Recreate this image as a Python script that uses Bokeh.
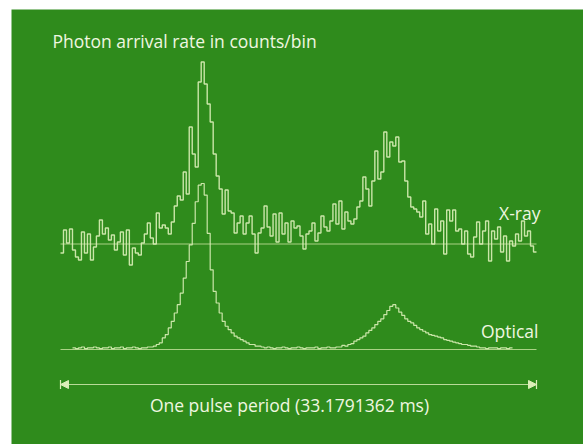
import numpy as np
from bokeh.plotting import figure
from bokeh.models import Range1d, Label, Arrow, NormalHead, TeeHead
from bokeh.embed import file_html
from bokeh.resources import INLINE

# ---------------- data ----------------
# X-ray light curve: counts per phase bin, relative to the mean (off-pulse) level
xray_counts = (
    [-9, 14, 1, 15, -6, -13, -16, 12, -9, 10, -16, -3, 8, 24, 10, 16, 4, 9, -6, 2,
     12, -11, 14, -21, -4, -9, -11, 1, 10, 21]
    + [6, 0, 31, 16, 19, 16, 10, 22, 38, 48, 44, 72, 50, 117, 90, 77, 162, 182, 160, 140,
       122, 90, 68, 55, 30, 54]
    + [33, 31, 11, 21, 28, 10, 21, 28, 10, -9, 11, 16, 38, 17, 8, 30, 2, 31, 10, 21,
       2, 23, 16, 18, 8, -5, 10, 13, 21, 3, 11, 28]
    + [17, 13, 23, 40, 20, 43, 15, 32, 23, 20, 25, 37, 43, 67, 55, 38, 63, 93, 65, 72,
       112, 87, 102, 98, 107, 82, 83, 63, 47, 37, 35]
    + [32, 27, 43, 10, 20, 0, 35, 13, 23, -10, 34, 23, 34, 13, 15, 0, 13, -10, -13, 7,
       22, 0, 13, 23, -17, 13, 5, 17, -8, 8, -17, 3, -2, 10, 3, 23, 8, 13, -2, -8]
)

# Optical light curve: % of main-peak intensity, same phase bins, starting at bin 4
optical_first_bin = 4
optical_pct = (
    [1, 0.5, 1, 1.5, 0.5, 1, 1, 1.5, 1, 0.5, 1, 1, 1.5, 0.5, 1, 1, 1.5, 0.5, 1, 1,
     1.5, 1, 0.5, 1, 1, 1.5, 1.5]
    + [2, 3, 4, 7, 9, 13, 17, 22, 27, 34, 43, 53, 63, 76, 89, 99, 100, 93, 70, 48,
       35, 28, 22, 17, 14, 12, 10, 8, 7, 6, 5, 4, 3, 3, 2, 2, 1.5]
    + [1, 1.5, 1, 0.5, 1, 1, 1.5, 1, 0.5, 1, 1, 1.5, 1, 0.5, 1, 1, 1, 1.5, 0.5, 1,
       1, 1.5, 1, 1, 1.5]
    + [1.5, 2.5, 2, 3, 3.5, 5, 6, 7, 8, 10, 11.5, 13, 15, 17, 18.5, 21, 23.5, 26, 27, 25,
       22.5, 20.5, 18.5, 17, 16, 14.5, 13, 12, 11, 10, 9, 8.5, 8, 7.5, 7, 6, 5.5, 5, 4.5, 4,
       3.5, 3, 3, 2.5, 2, 2, 1.5, 1]
    + [1, 0.5, 1, 1, 1, 0.5, 1, 1, 0.5, 1]
)

period_ms = "33.1791362"
title_text = "Photon arrival rate in counts/bin"
xray_label = "X-ray"
optical_label = "Optical"
period_label = f"One pulse period ({period_ms} ms)"

# ---------------- style ----------------
GREEN = "#2f8b1c"
TRACE = "#dcefb8"
BASE = "#c9e3a0"
TEXT = "#f0f7e0"
FONT = "Open Sans"
FSIZE = "17.5px"

W, H = 583, 444
left_pad, top_pad = 11, 9
frame_w, frame_h = W - left_pad, H - top_pad

# phase 0..1 spans 476 px, starting 49 px into the frame
px_per_phase = 476.0
x0 = -49.0 / px_per_phase
x1 = x0 + frame_w / px_per_phase
# X-ray: 1 count = 1 px, mean level 234.5 px below frame top
y_top = 234.5
y0, y1 = y_top - frame_h, y_top
# Optical: 100% = 166 px, zero level 340 px below frame top
opt_px = 1.66
oy_top = 340.0 / opt_px
oy0, oy1 = oy_top - frame_h / opt_px, oy_top

p = figure(width=W, height=H, output_backend="svg", toolbar_location=None,
           x_range=Range1d(x0, x1), y_range=Range1d(y0, y1),
           x_axis_location=None, y_axis_location=None,
           min_border_left=left_pad, min_border_top=top_pad,
           min_border_right=0, min_border_bottom=0,
           background_fill_color=GREEN, border_fill_color="white",
           outline_line_color=None)
p.grid.visible = False
p.extra_y_ranges = {"opt": Range1d(oy0, oy1)}

N = len(xray_counts)
edges = np.arange(N + 1) / N

# baselines (mean levels)
p.line([0, 1], [0, 0], line_color=BASE, line_width=1, line_alpha=0.8)
p.line([0, 1], [0, 0], y_range_name="opt", line_color=BASE, line_width=1, line_alpha=0.8)

# X-ray histogram
p.step(edges, list(xray_counts) + [xray_counts[-1]], mode="after",
       line_color=TRACE, line_width=1.4, line_alpha=0.9)

# Optical histogram
M = len(optical_pct)
oedges = np.arange(optical_first_bin, optical_first_bin + M + 1) / N
p.step(oedges, list(optical_pct) + [optical_pct[-1]], mode="after", y_range_name="opt",
       line_color=TRACE, line_width=1.2, line_alpha=0.9)

# period arrow
arrow_y = -140.5
p.add_layout(Arrow(start=NormalHead(size=8, fill_color=TRACE, line_color=TRACE, line_width=1),
                   end=NormalHead(size=8, fill_color=TRACE, line_color=TRACE, line_width=1),
                   x_start=0, y_start=arrow_y, x_end=1, y_end=arrow_y,
                   line_color=TRACE, line_width=1, line_alpha=0.8))
p.add_layout(Arrow(start=TeeHead(size=9, line_color=TRACE, line_width=1.2),
                   end=TeeHead(size=9, line_color=TRACE, line_width=1.2),
                   x_start=0, y_start=arrow_y, x_end=1, y_end=arrow_y,
                   line_alpha=0))

def label(x, y, text, align):
    p.add_layout(Label(x=x, y=y, text=text, text_align=align, text_baseline="alphabetic",
                       text_font=FONT, text_font_size=FSIZE, text_color=TEXT))

label((52 - 60) / px_per_phase, 243.5 - 40, title_text, "left")
label((540 - 60) / px_per_phase, 243.5 - 212, xray_label, "right")
label((538 - 60) / px_per_phase, 243.5 - 330, optical_label, "right")
label((289 - 60) / px_per_phase, 243.5 - 404, period_label, "center")

open("out.html", "w").write(file_html(p, INLINE))
